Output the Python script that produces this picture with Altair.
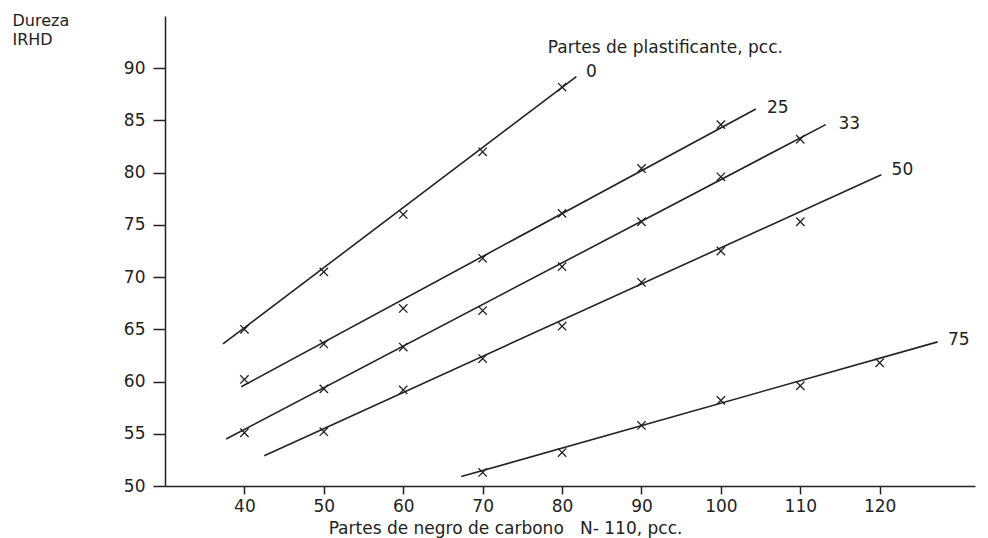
import altair as alt
import pandas as pd

# Measured points (x = parts of carbon black N-110, y = IRHD hardness)
x_0 = [40, 50, 60, 70, 80]
hard_0 = [65.0, 70.5, 76.0, 82.0, 88.2]
x_25 = [40, 50, 60, 70, 80, 90, 100]
hard_25 = [60.2, 63.6, 67.0, 71.8, 76.1, 80.4, 84.6]
x_33 = [40, 50, 60, 70, 80, 90, 100, 110]
hard_33 = [55.1, 59.3, 63.3, 66.8, 71.0, 75.3, 79.6, 83.2]
x_50 = [50, 60, 70, 80, 90, 100, 110]
hard_50 = [55.2, 59.2, 62.2, 65.3, 69.5, 72.5, 75.3]
x_75 = [70, 80, 90, 100, 110, 120]
hard_75 = [51.3, 53.2, 55.8, 58.2, 59.6, 61.8]

series_names = ["0", "25", "33", "50", "75"]

# Fitted straight lines (start / end)
line_x_start = [37.3, 39.6, 37.7, 42.5, 67.3]
line_y_start = [63.6, 59.5, 54.5, 52.9, 50.9]
line_x_end = [81.8, 104.4, 113.2, 120.2, 127.3]
line_y_end = [89.2, 86.1, 84.6, 79.8, 63.8]

# Series label positions
label_x = [83.0, 105.8, 114.8, 121.5, 128.6]
label_y = [89.6, 86.2, 84.7, 80.3, 64.0]

legend_title = "Partes de plastificante, pcc."
legend_x = [78.2]
legend_y = [91.9]

x_ticks = [40, 50, 60, 70, 80, 90, 100, 110, 120]
y_ticks = [50, 55, 60, 65, 70, 75, 80, 85, 90]

FONT = "DejaVu Sans"
INK = "#222222"

pts_rows = []
for name, xs, ys in zip(series_names, [x_0, x_25, x_33, x_50, x_75],
                        [hard_0, hard_25, hard_33, hard_50, hard_75]):
    for xv, yv in zip(xs, ys):
        pts_rows.append({"s": name, "x": xv, "y": yv})
pts = pd.DataFrame(pts_rows)

line_rows = []
for i, name in enumerate(series_names):
    line_rows.append({"s": name, "x": line_x_start[i], "y": line_y_start[i], "o": 0})
    line_rows.append({"s": name, "x": line_x_end[i], "y": line_y_end[i], "o": 1})
lines = pd.DataFrame(line_rows)

labels = pd.DataFrame({"s": series_names, "x": label_x, "y": label_y})
legend_df = pd.DataFrame({"t": [legend_title], "x": legend_x, "y": legend_y})

x_scale = alt.Scale(domain=[30, 132], nice=False, zero=False)
y_scale = alt.Scale(domain=[50, 95], nice=False, zero=False)

x_axis = alt.Axis(
    values=x_ticks, grid=False, tickSize=8, tickWidth=1.5, tickColor=INK,
    domainColor=INK, domainWidth=1.5, labelFont=FONT, labelFontSize=17,
    labelColor=INK, labelPadding=4,
    title="Partes de negro de carbono\u00a0\u00a0 N- 110, pcc.",
    titleFont=FONT, titleFontSize=17, titleFontWeight="normal", titleColor=INK,
    titleX=340, titleY=47, titleAlign="center", titleBaseline="alphabetic",
)
y_axis = alt.Axis(
    values=y_ticks, grid=False, tickSize=12, tickWidth=1.5, tickColor=INK,
    domainColor=INK, domainWidth=1.5, labelFont=FONT, labelFontSize=17,
    labelColor=INK, labelPadding=8,
    title=["Dureza", "IRHD"], titleAngle=0, titleX=-153, titleY=-4,
    titleAlign="left", titleBaseline="top", titleFont=FONT, titleFontSize=16,
    titleFontWeight="normal", titleColor=INK, titleLineHeight=19,
)

X = alt.X("x:Q", scale=x_scale, axis=x_axis)
Y = alt.Y("y:Q", scale=y_scale, axis=y_axis)

line_layer = alt.Chart(lines).mark_line(color=INK, strokeWidth=1.6).encode(
    x=X, y=Y, detail="s:N", order="o:Q"
)
point_layer = alt.Chart(pts).mark_point(
    shape="M-1,-1L1,1M1,-1L-1,1", filled=False, color=INK, strokeWidth=1.3, size=70, opacity=1
).encode(x=X, y=Y)
label_layer = alt.Chart(labels).mark_text(
    align="left", baseline="middle", font=FONT, fontSize=17, color=INK
).encode(x=X, y=Y, text="s:N")
legend_layer = alt.Chart(legend_df).mark_text(
    align="left", baseline="middle", font=FONT, fontSize=17, color=INK
).encode(x=X, y=Y, text="t:N")

chart = alt.layer(line_layer, point_layer, label_layer, legend_layer).properties(
    width=810, height=470,
    autosize=alt.AutoSizeParams(type="none"),
    padding={"left": 157, "top": 8, "right": 5, "bottom": 52},
).configure_view(stroke=None)

chart.save("out.html", embed_options={"renderer": "svg", "actions": False})
